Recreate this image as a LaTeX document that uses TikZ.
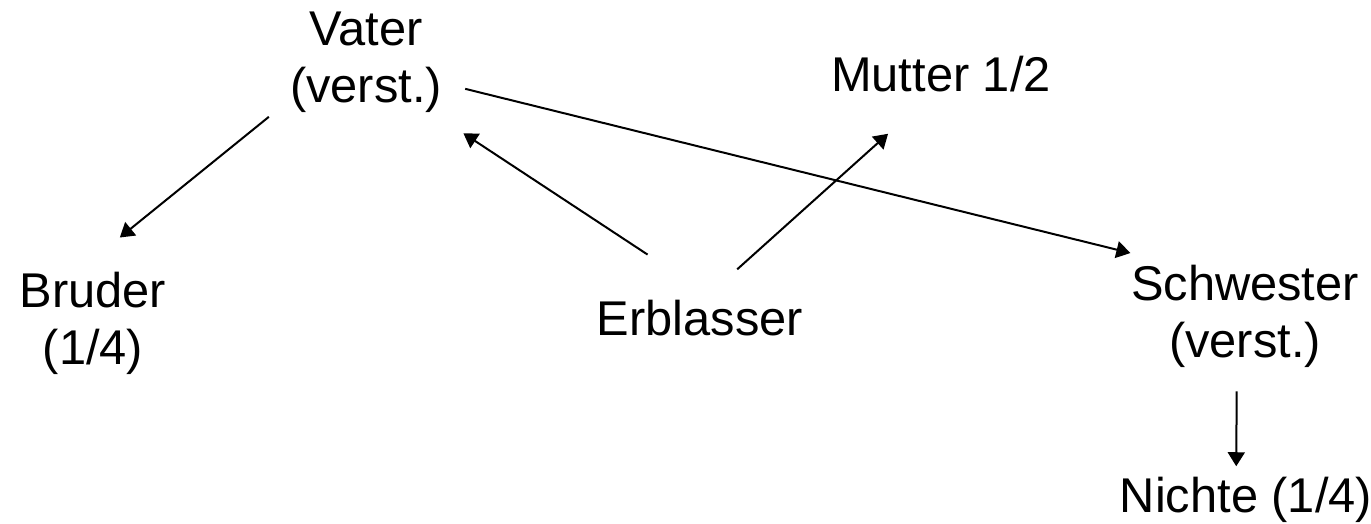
\documentclass[tikz,border=0pt]{standalone}
\usepackage{fontspec}
\setmainfont{Liberation Sans}
\usetikzlibrary{arrows.meta}
\begin{document}
\begin{tikzpicture}[x=0.5pt, y=-0.5pt,
		pers/.style={inner sep=0pt, align=center, font=\fontsize{24.4}{28.5}\selectfont},
		pfeil/.style={-{Triangle[length=7pt, width=8.5pt]}, line width=1pt}]
			\useasboundingbox (0,0) rectangle (1371,524);

			\draw node[pers, anchor=north] (1) at (366,12) {Vater\\(verst.)};
			\draw node[pers, anchor=north] (2) at (93,272) {Bruder\\(1/4)};
			\draw node[pers, anchor=base] (3) at (700,335) {Erblasser};
			\draw node[pers, anchor=base] (4) at (941,92) {Mutter 1/2};
			\draw node[pers, anchor=north] (5) at (1245,265) {Schwester\\(verst.)};
			\draw node[pers, anchor=base] (6) at (1246,512) {Nichte (1/4)};

			\draw[pfeil, shorten <=13.4pt, shorten >=27.4pt] (1.206.7) -- (2.107.5);
			\draw[pfeil, shorten <=40.6pt, shorten >=18pt] (3.50) -- (1.323.5);
			\draw[pfeil, shorten <=22.4pt, shorten >=30.6pt] (3.78) -- (4.248);
			\draw[pfeil, shorten <=11.8pt, shorten >=25pt] (1.345.8) -- (5.142.6);
			\draw[pfeil, shorten <=11.5pt, shorten >=5pt] (5.261.1) -- (6.113.5);
		\end{tikzpicture}
\end{document}
